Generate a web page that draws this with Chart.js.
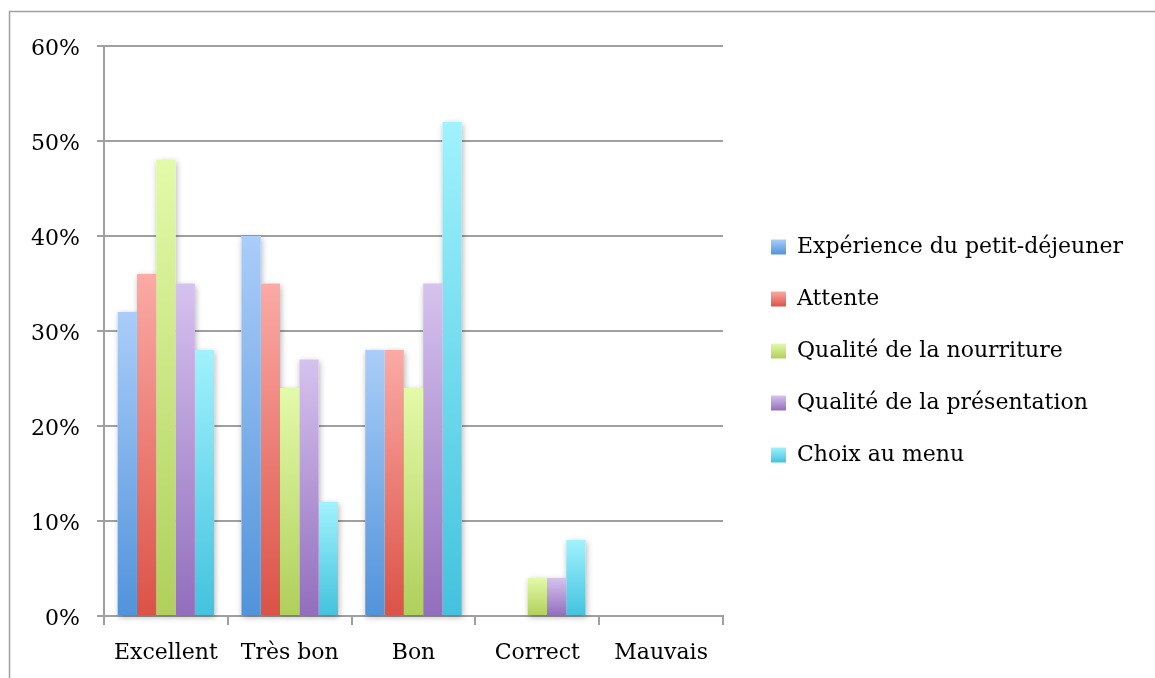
<!DOCTYPE html>
<html>
<head>
<meta charset="utf-8">
<script src="https://cdn.jsdelivr.net/npm/chart.js@4/dist/chart.umd.min.js"></script>
<style>
  html, body { margin: 0; padding: 0; background: #fff; }
  #wrap { position: relative; width: 1155px; height: 678px; }
</style>
</head>
<body>
<div id="wrap"><canvas id="chart" width="1155" height="678"></canvas></div>
<script>
// Rating categories along the x axis
const categories = ['Excellent', 'Très bon', 'Bon', 'Correct', 'Mauvais'];

// Series names (legend)
const seriesNames = [
  'Expérience du petit-déjeuner',
  'Attente',
  'Qualité de la nourriture',
  'Qualité de la présentation',
  'Choix au menu'
];

// Share of answers per category, in percent
const petitDejeuner = [32, 40, 28, 0, 0];
const attente       = [36, 35, 28, 0, 0];
const nourriture    = [48, 24, 24, 4, 0];
const presentation  = [35, 27, 35, 4, 0];
const choixMenu     = [28, 12, 52, 8, 0];

// Y axis tick values (percent)
const yTicks = [0, 10, 20, 30, 40, 50, 60];

const seriesValues = [petitDejeuner, attente, nourriture, presentation, choixMenu];

// Light (top) and dark (bottom) shade of each series
const shades = [
  ['#aacdf9', '#5193da'],
  ['#fbaaa5', '#db5246'],
  ['#e3faa9', '#b0cf5b'],
  ['#d6c2ee', '#926ebd'],
  ['#a0f2fd', '#43c2de']
];

const FONT_FAMILY = '"DejaVu Serif", serif';
const FONT_SIZE = 22;
const GRID = '#a0a0a0';

// Each bar gets its own vertical gradient, light at the top, dark at the base
function barFill(i) {
  return (ctx) => {
    const chart = ctx.chart;
    if (!chart.chartArea || ctx.type !== 'data') return shades[i][1];
    const y = chart.scales.y;
    const top = y.getPixelForValue(ctx.raw);
    const bottom = y.getPixelForValue(0);
    if (bottom - top < 1) return shades[i][1];
    const g = chart.ctx.createLinearGradient(0, top, 0, bottom);
    g.addColorStop(0, shades[i][0]);
    g.addColorStop(1, shades[i][1]);
    return g;
  };
}

// Legend layout: box, gap and the longest label decide the legend width
const LEGEND_PAD = 30;
const LEGEND_BOX = 15;
const measure = document.createElement('canvas').getContext('2d');
measure.font = FONT_SIZE + 'px ' + FONT_FAMILY;
const longestLabel = Math.max(...seriesNames.map(s => measure.measureText(s).width));
const legendWidth = 10 + LEGEND_PAD + LEGEND_BOX + FONT_SIZE / 2 + longestLabel;
const PLOT_RIGHT = 723;
const GAP_RIGHT = 18;
const rightPadding = Math.max(0, 1155 - PLOT_RIGHT - GAP_RIGHT - legendWidth);

// Outer frame around the whole chart
const framePlugin = {
  id: 'frame',
  beforeDraw(chart) {
    const c = chart.ctx;
    c.save();
    c.strokeStyle = '#a0a0a0';
    c.lineWidth = 1.5;
    c.strokeRect(9.5, 11.5, 2000, 2000);
    c.restore();
  }
};

// Soft shadow under every bar, drawn before the bars so it only shows on the background
const barShadowPlugin = {
  id: 'barShadow',
  beforeDatasetsDraw(chart) {
    const c = chart.ctx;
    c.save();
    c.shadowColor = 'rgba(0,0,0,0.3)';
    c.shadowBlur = 6;
    c.shadowOffsetX = 1;
    c.shadowOffsetY = 2;
    c.fillStyle = '#ffffff';
    chart.data.datasets.forEach((d, i) => {
      chart.getDatasetMeta(i).data.forEach(el => {
        const p = el.getProps(['x', 'y', 'base', 'width'], true);
        const h = Math.abs(p.base - p.y);
        if (h < 1) return;
        c.fillRect(p.x - p.width / 2, Math.min(p.y, p.base), p.width, h);
      });
    });
    c.restore();
  }
};

// Gradient legend boxes matching the bars
const legendShadePlugin = {
  id: 'legendShade',
  beforeDraw(chart) {
    const lg = chart.legend;
    if (!lg || !lg.legendItems || !lg.legendHitBoxes) return;
    lg.legendItems.forEach((item, i) => {
      const hb = lg.legendHitBoxes[i];
      if (!hb) return;
      const top = hb.top + (FONT_SIZE - LEGEND_BOX) / 2;
      const g = chart.ctx.createLinearGradient(0, top, 0, top + LEGEND_BOX);
      const s = shades[item.datasetIndex];
      g.addColorStop(0, s[0]);
      g.addColorStop(1, s[1]);
      item.fillStyle = g;
      item.lineWidth = 0;
      item.strokeStyle = 'rgba(0,0,0,0)';
    });
  }
};

const datasets = seriesNames.map((name, i) => ({
  label: name,
  data: seriesValues[i],
  xAxisID: 'x',
  yAxisID: 'y',
  backgroundColor: barFill(i),
  borderWidth: 0,
  categoryPercentage: 0.78,
  barPercentage: 1.0
}));

new Chart(document.getElementById('chart'), {
  type: 'bar',
  data: { labels: categories, datasets },
  plugins: [framePlugin, barShadowPlugin, legendShadePlugin],
  options: {
    responsive: false,
    animation: false,
    devicePixelRatio: 1,
    layout: { padding: { top: 24, bottom: 0, left: 0, right: rightPadding } },
    font: { family: FONT_FAMILY, size: FONT_SIZE },
    color: '#000',
    plugins: {
      tooltip: { enabled: false },
      title: { display: false },
      legend: {
        position: 'right',
        align: 'center',
        maxWidth: 700,
        labels: {
          color: '#000',
          font: { family: FONT_FAMILY, size: FONT_SIZE },
          boxWidth: LEGEND_BOX,
          boxHeight: LEGEND_BOX,
          padding: LEGEND_PAD
        }
      }
    },
    scales: {
      x: {
        type: 'category',
        position: 'bottom',
        afterFit(s) { s.height = 62; },
        grid: {
          display: true,
          offset: true,
          drawOnChartArea: false,
          drawTicks: true,
          tickLength: 9,
          color: GRID,
          lineWidth: 2
        },
        border: { display: true, color: GRID, width: 2 },
        ticks: {
          color: '#000',
          font: { family: FONT_FAMILY, size: FONT_SIZE },
          padding: 15,
          maxRotation: 0,
          autoSkip: false
        }
      },
      y: {
        type: 'linear',
        position: 'left',
        min: yTicks[0],
        max: yTicks[yTicks.length - 1],
        afterFit(s) { s.width = 104; },
        afterBuildTicks(s) { s.ticks = yTicks.map(v => ({ value: v })); },
        grid: {
          color: GRID,
          lineWidth: 2,
          drawTicks: true,
          tickLength: 7
        },
        border: { display: true, color: GRID, width: 2 },
        ticks: {
          color: '#000',
          font: { family: FONT_FAMILY, size: FONT_SIZE },
          padding: 17,
          labelOffset: 3,
          callback: (v) => v + '%'
        }
      },
      gapTop: {
        type: 'linear',
        position: 'top',
        display: true,
        afterFit(s) { s.height = 22; },
        grid: { display: false },
        border: { display: false },
        ticks: { display: false }
      },
      gapRight: {
        type: 'linear',
        position: 'right',
        display: true,
        afterFit(s) { s.width = GAP_RIGHT; },
        grid: { display: false },
        border: { display: false },
        ticks: { display: false }
      }
    }
  }
});
</script>
</body>
</html>
